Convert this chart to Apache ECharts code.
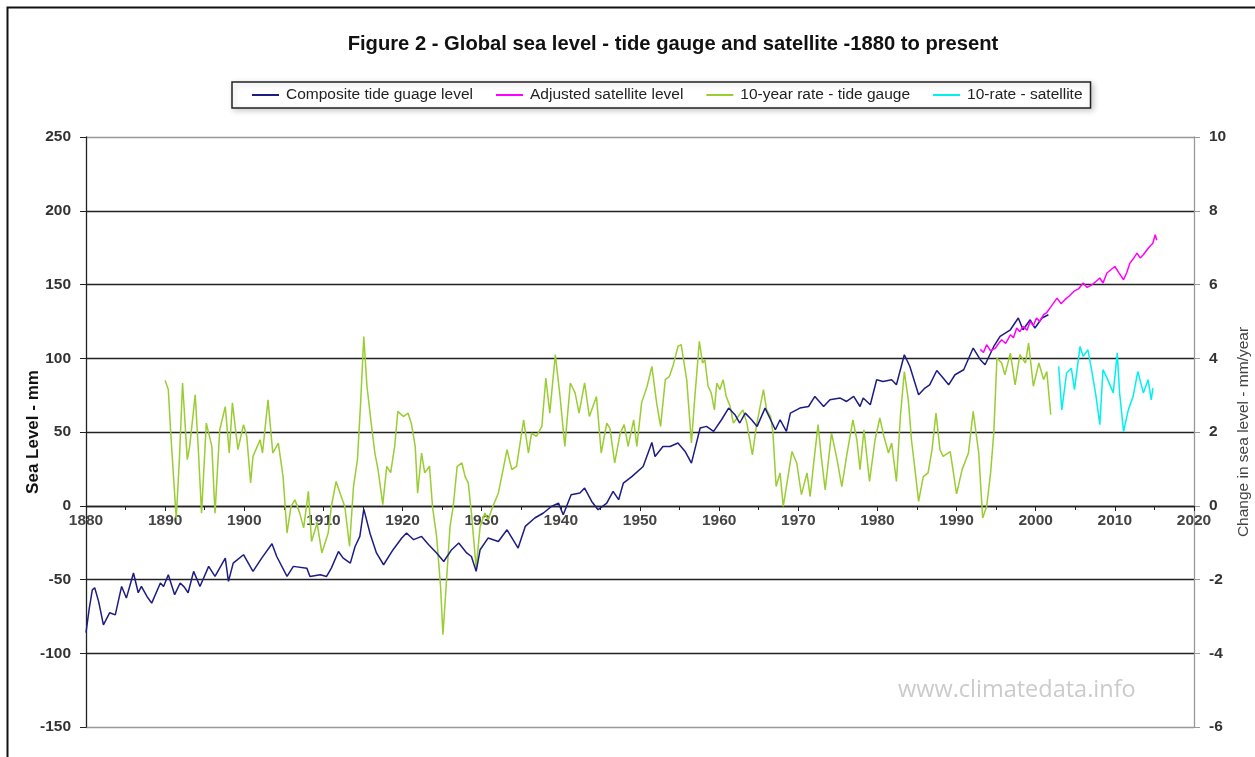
<!DOCTYPE html>
<html><head><meta charset="utf-8">
<script src="https://cdn.jsdelivr.net/npm/echarts@6/dist/echarts.min.js"></script>
<style>html,body{margin:0;padding:0;background:#fff}#c{width:1255px;height:757px}</style>
</head><body><div id="c"></div>
<script>
// Composite tide gauge level (mm)
const tideYears = [1880.0,1880.4,1880.8,1881.1,1881.6,1882.2,1883.0,1883.7,1884.5,1885.1,1886.0,1886.6,1887.0,1887.7,1888.3,1889.4,1889.8,1890.4,1891.2,1891.9,1892.4,1892.9,1893.6,1894.4,1895.5,1896.3,1897.6,1898.0,1898.6,1899.9,1901.1,1902.2,1903.5,1904.1,1905.4,1906.2,1907.9,1908.3,1909.6,1910.4,1911.0,1911.9,1912.5,1913.4,1914.0,1914.6,1915.1,1915.9,1916.7,1917.6,1918.8,1919.9,1920.5,1921.4,1922.4,1923.3,1924.3,1925.2,1926.2,1927.1,1928.1,1928.7,1929.3,1929.8,1930.8,1932.1,1933.2,1934.6,1935.5,1936.7,1937.8,1938.8,1939.7,1940.3,1941.3,1942.4,1943.0,1943.9,1944.7,1945.8,1946.6,1947.3,1947.9,1949.0,1950.4,1951.5,1951.9,1952.9,1953.8,1954.8,1955.7,1956.5,1957.6,1958.4,1959.3,1960.3,1961.2,1962.0,1962.6,1963.3,1964.1,1964.8,1965.8,1966.4,1967.1,1967.7,1968.5,1969.0,1970.2,1971.3,1972.1,1973.2,1974.0,1975.3,1976.1,1977.0,1977.8,1978.2,1979.1,1979.9,1980.7,1981.8,1982.4,1983.4,1984.1,1985.2,1986.0,1986.6,1987.5,1988.3,1989.0,1989.8,1990.9,1992.1,1993.0,1993.6,1994.7,1995.5,1996.8,1997.8,1998.4,1999.3,1999.9,2000.8,2001.6];
const tideLevel = [-86,-70,-57,-55.6,-65,-80.7,-72.5,-74,-54.7,-62.6,-45.6,-59,-54.7,-61.5,-66,-52.4,-54.7,-46.8,-60.3,-52.4,-55,-59,-44.5,-54.7,-41.1,-47.9,-35.5,-51.3,-38.9,-33.2,-44.5,-35.5,-25.8,-34.4,-47.9,-41.1,-42.3,-47.9,-46.8,-47.9,-42.3,-31,-35.5,-38.9,-27.6,-20.8,-2.3,-19,-32,-40,-29.8,-21.9,-18.5,-23,-20.8,-26.4,-32,-37.8,-29.8,-25.3,-32,-34.4,-44.5,-29.8,-21.9,-24.2,-16.3,-28.7,-14,-8.3,-4.9,-0.5,1.8,-6.1,7.5,8.6,12,2.9,-2.7,1.8,9.7,4.1,15.4,19.9,26.6,42.9,33.4,40.2,40.2,42.5,36.8,28.9,52.7,53.8,50.4,58.3,66.2,61.7,56.1,62.8,58.3,53.8,66.2,59.5,51.5,58.3,50.4,62.8,66.2,67.3,74.1,67.3,71.9,73,70.7,74.1,67.3,73,68.5,85.4,84.3,85.4,82,102.4,94.4,75.3,79.8,82,91.7,86.6,82,88.8,92.2,106.9,99,95.6,108,114.8,119.3,127.3,119.3,126.1,120.5,127.3,129.5];

// Adjusted satellite level (mm)
const satYears = [1993.0,1993.4,1993.8,1994.3,1994.9,1995.3,1995.7,1996.2,1996.8,1997.2,1997.6,1998.0,1998.4,1998.9,1999.3,1999.7,2000.1,2000.5,2001.0,2001.4,2001.8,2002.2,2002.7,2003.2,2003.7,2004.2,2004.8,2005.4,2006.0,2006.5,2007.1,2007.6,2008.1,2008.5,2009.0,2009.5,2010.0,2010.5,2011.1,2011.5,2011.9,2012.4,2012.8,2013.2,2013.6,2014.0,2014.4,2014.8,2015.1,2015.3];
const satLevel = [106,104,109.2,105,106.9,110,112.5,110,115.9,114,120.5,118,121.6,119,125,122,127.3,125,129.5,131,134,137,140.8,137,139.7,142,145.3,147,151,148,149.8,152,154.4,151,157.8,160,162.2,158,153.2,158,164.5,168,171.3,168,170.2,173,175.8,178,183.7,180];

// 10-year rate - tide gauge (mm/year)
const rateYears = [1890.0,1890.4,1890.7,1891.0,1891.4,1891.8,1892.2,1892.8,1893.1,1893.8,1894.2,1894.6,1895.2,1895.9,1896.3,1896.9,1897.6,1898.1,1898.5,1899.2,1899.9,1900.3,1900.8,1901.1,1902.0,1902.3,1903.0,1903.6,1904.3,1904.9,1905.4,1905.9,1906.4,1907.0,1907.5,1908.1,1908.5,1909.2,1909.8,1910.6,1911.0,1911.6,1912.1,1912.7,1913.3,1913.8,1914.3,1914.7,1915.1,1915.5,1916.0,1916.5,1916.9,1917.5,1918.0,1918.5,1919.0,1919.4,1920.1,1920.7,1921.1,1921.6,1921.9,1922.4,1922.8,1923.4,1923.8,1924.3,1924.8,1925.1,1925.5,1926.0,1926.4,1926.9,1927.5,1927.9,1928.3,1928.7,1929.3,1929.8,1930.4,1930.8,1931.4,1932.1,1932.7,1933.2,1933.8,1934.4,1935.3,1935.9,1936.3,1936.9,1937.6,1938.1,1938.6,1939.3,1939.9,1940.5,1941.2,1941.8,1942.3,1943.0,1943.6,1944.5,1945.1,1945.8,1946.2,1946.8,1947.5,1948.0,1948.5,1949.2,1949.6,1950.2,1950.9,1951.5,1952.1,1952.6,1953.2,1953.7,1954.2,1954.8,1955.2,1955.5,1955.9,1956.5,1956.9,1957.5,1957.9,1958.2,1958.6,1959.0,1959.4,1959.7,1960.1,1960.5,1960.9,1961.4,1961.8,1962.4,1963.0,1963.5,1964.2,1964.7,1965.1,1965.6,1966.0,1966.5,1966.8,1967.2,1967.7,1968.1,1968.5,1969.2,1969.8,1970.4,1971.1,1971.5,1971.9,1972.5,1972.9,1973.4,1974.2,1974.9,1975.5,1976.1,1976.9,1977.4,1977.8,1978.3,1979.0,1979.7,1980.3,1980.8,1981.4,1981.8,1982.4,1982.9,1983.4,1983.9,1984.3,1984.7,1985.2,1985.8,1986.4,1986.9,1987.4,1987.9,1988.3,1989.2,1990.0,1990.7,1991.5,1992.1,1992.8,1993.3,1993.8,1994.3,1994.7,1995.1,1995.7,1996.1,1996.8,1997.4,1998.0,1998.7,1999.1,1999.7,2000.4,2001.0,2001.4,2001.9];
const rateValues = [3.4,3.15,2.0,0.98,-0.33,1.25,3.33,1.25,1.61,3.01,1.5,-0.2,2.24,1.61,-0.2,2.06,2.69,1.43,2.79,1.52,2.2,1.9,0.62,1.34,1.79,1.43,2.87,1.43,1.7,0.79,-0.74,-0.02,0.16,-0.2,-0.6,0.39,-0.97,-0.47,-1.28,-0.74,-0.02,0.66,0.34,-0.02,-1.1,0.52,1.25,2.79,4.59,3.24,2.3,1.43,0.98,0.03,1.07,0.9,1.61,2.56,2.42,2.51,2.24,1.61,0.34,1.43,0.89,1.07,-0.06,-0.83,-2.19,-3.5,-2.19,-0.56,-0.02,1.07,1.16,0.79,0.62,-0.2,-1.69,-0.56,-0.2,-0.38,-0.02,0.34,0.98,1.52,0.98,1.07,2.33,1.43,1.97,1.88,2.15,3.46,2.51,4.1,2.96,1.61,3.33,3.06,2.51,3.33,2.42,2.96,1.43,2.24,2.1,1.16,1.97,2.2,1.61,2.33,1.61,2.79,3.24,3.78,2.79,2.15,3.42,3.5,3.82,4.32,4.37,3.96,3.42,1.7,2.87,4.46,3.87,3.96,3.24,3.06,2.6,3.33,3.15,3.42,2.96,2.69,2.24,2.42,2.6,2.24,1.38,2.15,2.6,3.15,2.6,2.42,1.97,0.52,0.89,-0.02,0.52,1.47,1.16,0.3,0.89,0.25,1.07,2.2,1.34,0.43,1.97,1.25,0.52,1.34,2.33,1.79,0.98,2.06,0.66,1.79,2.38,1.9,1.43,1.7,0.66,2.42,3.64,2.87,1.79,1.07,0.12,0.79,0.89,1.52,2.51,1.52,1.34,1.47,0.32,0.98,1.43,2.56,1.43,-0.33,-0.02,0.89,1.97,4.0,3.87,3.55,4.14,3.28,4.1,3.87,4.41,3.24,3.87,3.42,3.64,2.47];

// 10-rate - satellite (mm/year)
const satRateYears = [2002.9,2003.3,2003.9,2004.5,2004.9,2005.6,2006.0,2006.6,2007.2,2007.6,2008.1,2008.5,2009.1,2009.8,2010.3,2010.6,2011.1,2011.7,2012.3,2012.9,2013.6,2014.2,2014.6,2014.8];
const satRateValues = [3.78,2.6,3.6,3.73,3.15,4.32,4.05,4.23,3.51,3.0,2.2,3.69,3.42,3.06,4.14,3.06,2.01,2.6,2.96,3.64,3.06,3.42,2.87,3.19];

const seriesNames = ['Composite tide guage level','Adjusted satellite level','10-year rate - tide gauge','10-rate - satellite'];
const levelTicks = {min:-150, max:250, step:50};
const rateTicks = {min:-6, max:10, step:2};
const yearTicks = {min:1880, max:2020, step:10};

const pairs = (xs, ys) => xs.map((x, i) => [x, ys[i]]);
const FONT = '"Liberation Sans", Arial, sans-serif';

const chart = echarts.init(document.getElementById('c'), null, {renderer:'canvas'});
chart.setOption({
  animation:false,
  backgroundColor:'#fff',
  title:{
    text:'Figure 2 - Global sea level - tide gauge and satellite -1880 to present',
    left:668, top:29, textAlign:'center',
    textStyle:{fontFamily:FONT, fontSize:20.2, fontWeight:'bold', color:'#111'}
  },
  legend:{
    data:seriesNames,
    left:232, top:82,
    icon:'rect',
    itemWidth:27, itemHeight:2, itemGap:23,
    padding:[5,8,5,20],
    borderColor:'#222', borderWidth:1.5,
    shadowBlur:6, shadowOffsetX:2, shadowOffsetY:2, shadowColor:'rgba(0,0,0,0.2)', backgroundColor:'#fff',
    textStyle:{fontFamily:FONT, fontSize:15.5, color:'#222', padding:[0,0,0,2]}
  },
  grid:{left:86, right:61, top:137, bottom:30, outerBoundsMode:'none', containLabel:false},
  xAxis:{
    type:'value', min:yearTicks.min, max:yearTicks.max, interval:yearTicks.step,
    offset:-221,
    axisLine:{onZero:false, lineStyle:{color:'#222', width:1.3}},
    axisTick:{show:true, length:5, lineStyle:{color:'#222'}},
    minorTick:{show:true, splitNumber:2, length:4, lineStyle:{color:'#222'}},
    splitLine:{show:false},
    axisLabel:{fontFamily:FONT, fontSize:15.5, fontWeight:'bold', color:'#444', margin:7, formatter:(v)=>String(v)}
  },
  yAxis:[{
    type:'value', min:levelTicks.min, max:levelTicks.max, interval:levelTicks.step,
    name:'Sea Level - mm', nameLocation:'middle', nameGap:44, nameMoveOverlap:false,
    nameTextStyle:{fontFamily:FONT, fontSize:17, fontWeight:'bold', color:'#111'},
    axisLine:{show:true, lineStyle:{color:'#222', width:1.3}},
    axisTick:{show:true, length:6, lineStyle:{color:'#222'}},
    splitLine:{show:true, lineStyle:{color:['#999','#222','#222','#222','#222','#222','#222','#222','#999'], width:1.3}},
    axisLabel:{fontFamily:FONT, fontSize:15.5, fontWeight:'bold', color:'#333', margin:15}
  },{
    type:'value', min:rateTicks.min, max:rateTicks.max, interval:rateTicks.step,
    name:'Change in sea level - mm/year', nameLocation:'middle', nameGap:42, nameMoveOverlap:false,
    nameTextStyle:{fontFamily:FONT, fontSize:15.5, color:'#444'},
    axisLine:{show:true, lineStyle:{color:'#999', width:1.3}},
    axisTick:{show:true, length:6, lineStyle:{color:'#999'}},
    splitLine:{show:false},
    axisLabel:{fontFamily:FONT, fontSize:15.5, fontWeight:'bold', color:'#333', margin:15}
  }],
  graphic:[
    {type:'rect', left:5, top:5, shape:{width:1262, height:770}, style:{fill:'none', stroke:'#111', lineWidth:2}, silent:true, z:100},
    {type:'text', left:898, top:678, style:{text:'www.climatedata.info', fontFamily:'"Open Sans", sans-serif', fontSize:23.5, fill:'#cbcbcb'}, silent:true}
  ],
  series:[
    {name:seriesNames[0], type:'line', yAxisIndex:0, symbol:'none', data:pairs(tideYears, tideLevel), lineStyle:{color:'#1c1c84', width:1.5}, itemStyle:{color:'#1c1c84'}, z:3},
    {name:seriesNames[1], type:'line', yAxisIndex:0, symbol:'none', data:pairs(satYears, satLevel), lineStyle:{color:'#ff00ff', width:1.5}, itemStyle:{color:'#ff00ff'}, z:4},
    {name:seriesNames[2], type:'line', yAxisIndex:1, symbol:'none', data:pairs(rateYears, rateValues), lineStyle:{color:'#9acd32', width:1.5}, itemStyle:{color:'#9acd32'}, z:2},
    {name:seriesNames[3], type:'line', yAxisIndex:1, symbol:'none', data:pairs(satRateYears, satRateValues), lineStyle:{color:'#00f0f0', width:1.5}, itemStyle:{color:'#00f0f0'}, z:2}
  ]
});
</script></body></html>
